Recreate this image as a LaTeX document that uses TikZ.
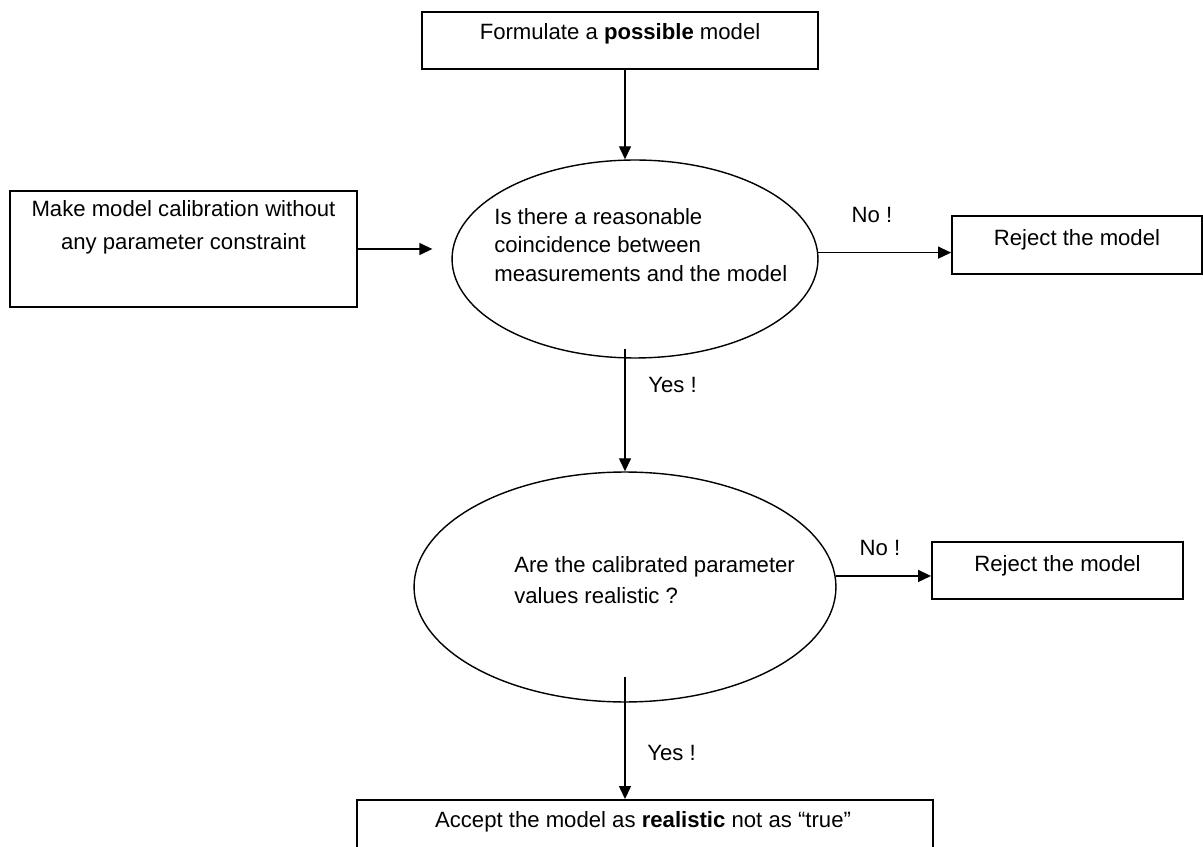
\documentclass[tikz,border=0pt]{standalone}
\usepackage{fontspec}
\setmainfont{Liberation Sans}
\usetikzlibrary{arrows.meta,shapes.geometric,positioning}

\begin{document}
\begin{tikzpicture}[x=0.02cm,y=-0.02cm,
  box/.style={draw,line width=1.1pt,inner sep=0pt},
  oval/.style={draw,ellipse,line width=0.8pt,inner sep=0pt},
  txt/.style={font=\fontsize{12.6pt}{#1}\selectfont,inner sep=0pt},
  txt/.default=15pt,
  arr/.style={line width=0.75pt,-{Triangle[length=0.26cm,width=0.24cm]}}]
\useasboundingbox (0,0) rectangle (1203,847);
\coordinate (spine) at (625,0);
% boxes and ovals
\node[box,minimum width=7.92cm,minimum height=1.14cm] (formulate) at (620,40.5) {};
\node[box,minimum width=6.94cm,minimum height=2.32cm] (calib) at (183.5,249) {};
\node[oval,minimum width=7.32cm,minimum height=3.96cm] (match) at (635,259) {};
\node[box,minimum width=5.0cm,minimum height=1.16cm] (reject1) at (1077,245) {};
\node[oval,minimum width=8.44cm,minimum height=4.6cm] (real) at (625,587) {};
\node[box,minimum width=5.02cm,minimum height=1.14cm] (reject2) at (1057.5,570.5) {};
\node[box,minimum width=11.52cm,minimum height=1.14cm] (accept) at (645,828.5) {};
% texts
\node[txt,anchor=base] (formulateT) at (620,40) {Formulate a \textbf{possible} model};
\node[txt=18.7pt,align=center] (calibT) at (183.5,227) {Make model calibration without\\any parameter constraint};
\node[txt=16.4pt,align=left,anchor=west] (matchT) at (494,245) {Is there a reasonable\\coincidence between\\measurements and the model};
\node[txt,anchor=base] (reject1T) at (1077,246) {Reject the model};
\node[txt=17.6pt,align=left,anchor=west] (realT) at (514,580) {Are the calibrated parameter\\values realistic ?};
\node[txt,anchor=base] (reject2T) at (1057.5,571) {Reject the model};
\node[txt,anchor=base] (acceptT) at (643,827) {Accept the model as \textbf{realistic} not as “true”};
\node[txt,anchor=base] (no1) at (872,223) {No !};
\node[txt,anchor=base] (no2) at (880,555) {No !};
\node[txt,anchor=base west] (yes1) at (648,393) {Yes !};
\node[txt,anchor=base west] (yes2) at (647,760) {Yes !};
% connectors
\draw[arr] (formulate.south -| spine) -- (match.north -| spine);
\draw[arr,shorten >=0.38cm] (calib.east) -- (calib.east -| match.west);
\draw[arr] (match.2.5) -- (match.2.5 -| reject1.west);
\draw[arr,shorten <=-0.2cm] (match.south -| spine) -- (real.north);
\draw[arr] (real.3.8) -- (real.3.8 -| reject2.west);
\draw[arr,shorten <=-0.52cm] (real.south) -- (accept.north -| spine);
\end{tikzpicture}
\end{document}
